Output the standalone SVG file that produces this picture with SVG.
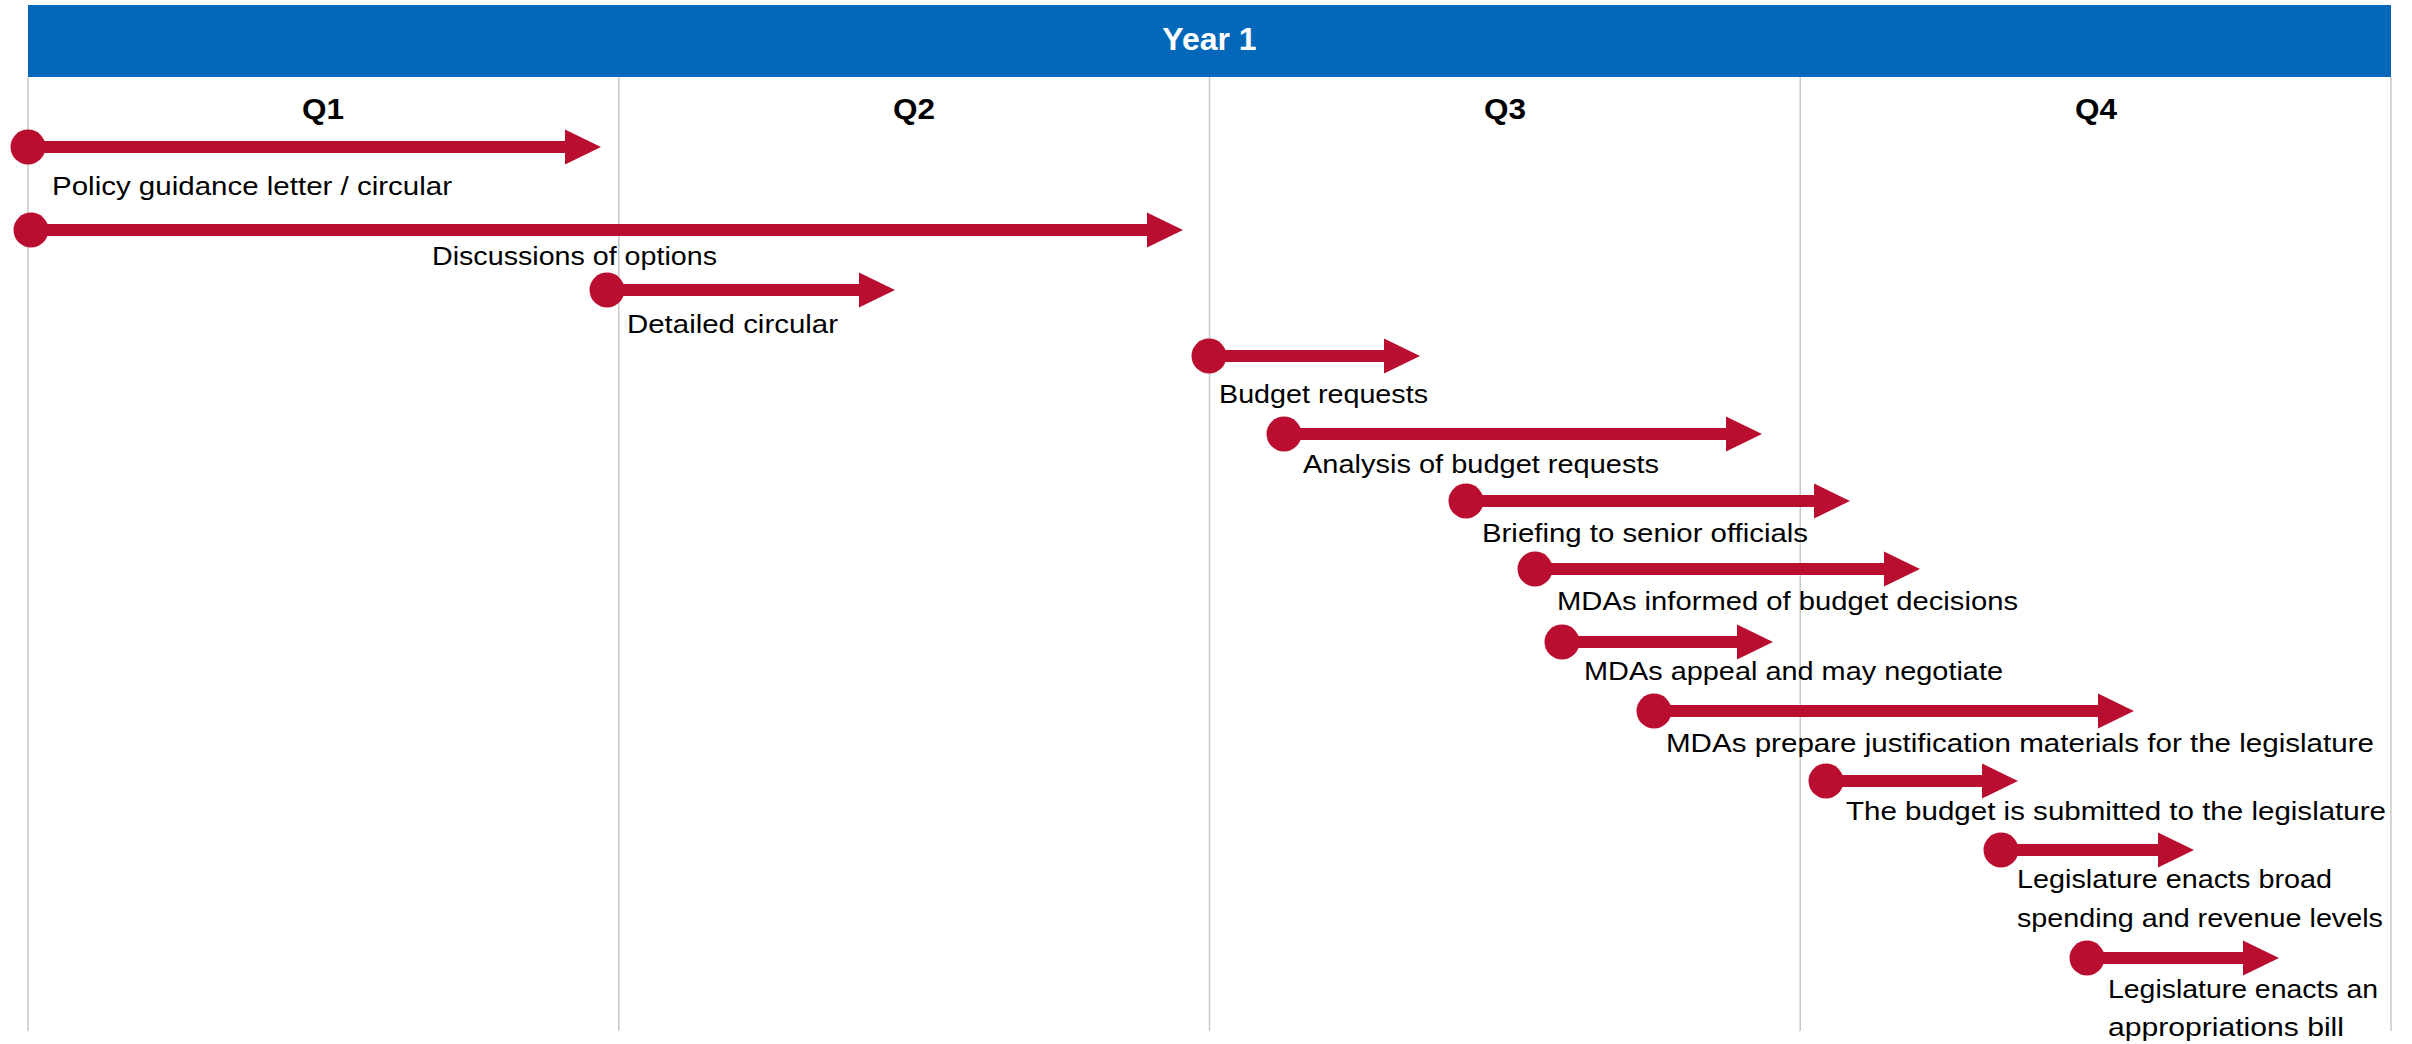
<svg xmlns="http://www.w3.org/2000/svg" width="2412" height="1044" viewBox="0 0 2412 1044">
<style>
.hdr{fill:#0368B9}
.yr{font-family:"Liberation Sans",Arial,sans-serif;font-weight:bold;font-size:32px;fill:#ffffff}
.q{font-family:"Liberation Sans",Arial,sans-serif;font-weight:bold;font-size:29px;fill:#000000}
.grid{stroke:#c8c8c8;stroke-width:1.5;fill:none}
.bar{fill:#BA0E30}
.lbl{font-family:"Liberation Sans",Arial,sans-serif;font-size:26px;fill:#000000}
</style>
<rect width="2412" height="1044" fill="#ffffff"/>
<g id="header">
<rect class="hdr" x="28" y="5" width="2363" height="72"/>
<text class="yr" x="1209.5" y="50" text-anchor="middle">Year 1</text>
</g>
<g id="grid">
<line class="grid" x1="28" y1="77" x2="28" y2="1031"/>
<line class="grid" x1="618.75" y1="77" x2="618.75" y2="1031"/>
<line class="grid" x1="1209.5" y1="77" x2="1209.5" y2="1031"/>
<line class="grid" x1="1800.25" y1="77" x2="1800.25" y2="1031"/>
<line class="grid" x1="2391" y1="77" x2="2391" y2="1031"/>
</g>
<g id="quarters">
<text class="q" x="302" y="119" textLength="42" lengthAdjust="spacingAndGlyphs">Q1</text>
<text class="q" x="893" y="119" textLength="42" lengthAdjust="spacingAndGlyphs">Q2</text>
<text class="q" x="1484" y="119" textLength="42" lengthAdjust="spacingAndGlyphs">Q3</text>
<text class="q" x="2075" y="119" textLength="42" lengthAdjust="spacingAndGlyphs">Q4</text>
</g>
<g id="connectors"></g>
<g id="task1">
<path class="bar" d="M28 141 H565 V129.5 L601 147 L565 164.5 V153 H28 Z"/>
<circle class="bar" cx="28" cy="147" r="17.5"/>
<text class="lbl" x="52" y="195" textLength="400" lengthAdjust="spacingAndGlyphs">Policy guidance letter / circular</text>
</g>
<g id="task2">
<path class="bar" d="M31 224 H1147 V212.5 L1183 230 L1147 247.5 V236 H31 Z"/>
<circle class="bar" cx="31" cy="230" r="17.5"/>
<text class="lbl" x="432" y="265" textLength="285" lengthAdjust="spacingAndGlyphs">Discussions of options</text>
</g>
<g id="task3">
<path class="bar" d="M607 284 H859 V272.5 L895 290 L859 307.5 V296 H607 Z"/>
<circle class="bar" cx="607" cy="290" r="17.5"/>
<text class="lbl" x="627" y="333" textLength="211" lengthAdjust="spacingAndGlyphs">Detailed circular</text>
</g>
<g id="task4">
<path class="bar" d="M1209 350 H1384 V338.5 L1420 356 L1384 373.5 V362 H1209 Z"/>
<circle class="bar" cx="1209" cy="356" r="17.5"/>
<text class="lbl" x="1219" y="403" textLength="209" lengthAdjust="spacingAndGlyphs">Budget requests</text>
</g>
<g id="task5">
<path class="bar" d="M1284 428 H1726 V416.5 L1762 434 L1726 451.5 V440 H1284 Z"/>
<circle class="bar" cx="1284" cy="434" r="17.5"/>
<text class="lbl" x="1303" y="473" textLength="356" lengthAdjust="spacingAndGlyphs">Analysis of budget requests</text>
</g>
<g id="task6">
<path class="bar" d="M1466 495 H1814 V483.5 L1850 501 L1814 518.5 V507 H1466 Z"/>
<circle class="bar" cx="1466" cy="501" r="17.5"/>
<text class="lbl" x="1482" y="542" textLength="326" lengthAdjust="spacingAndGlyphs">Briefing to senior officials</text>
</g>
<g id="task7">
<path class="bar" d="M1535 563 H1884 V551.5 L1920 569 L1884 586.5 V575 H1535 Z"/>
<circle class="bar" cx="1535" cy="569" r="17.5"/>
<text class="lbl" x="1557" y="610" textLength="461" lengthAdjust="spacingAndGlyphs">MDAs informed of budget decisions</text>
</g>
<g id="task8">
<path class="bar" d="M1562 636 H1737 V624.5 L1773 642 L1737 659.5 V648 H1562 Z"/>
<circle class="bar" cx="1562" cy="642" r="17.5"/>
<text class="lbl" x="1584" y="680" textLength="419" lengthAdjust="spacingAndGlyphs">MDAs appeal and may negotiate</text>
</g>
<g id="task9">
<path class="bar" d="M1654 705 H2098 V693.5 L2134 711 L2098 728.5 V717 H1654 Z"/>
<circle class="bar" cx="1654" cy="711" r="17.5"/>
<text class="lbl" x="1666" y="752" textLength="708" lengthAdjust="spacingAndGlyphs">MDAs prepare justification materials for the legislature</text>
</g>
<g id="task10">
<path class="bar" d="M1826 775 H1982 V763.5 L2018 781 L1982 798.5 V787 H1826 Z"/>
<circle class="bar" cx="1826" cy="781" r="17.5"/>
<text class="lbl" x="1846" y="820" textLength="540" lengthAdjust="spacingAndGlyphs">The budget is submitted to the legislature</text>
</g>
<g id="task11">
<path class="bar" d="M2001 844 H2158 V832.5 L2194 850 L2158 867.5 V856 H2001 Z"/>
<circle class="bar" cx="2001" cy="850" r="17.5"/>
<text class="lbl" x="2017" y="888" textLength="315" lengthAdjust="spacingAndGlyphs">Legislature enacts broad</text>
<text class="lbl" x="2017" y="927" textLength="366" lengthAdjust="spacingAndGlyphs">spending and revenue levels</text>
</g>
<g id="task12">
<path class="bar" d="M2087 952 H2243 V940.5 L2279 958 L2243 975.5 V964 H2087 Z"/>
<circle class="bar" cx="2087" cy="958" r="17.5"/>
<text class="lbl" x="2108" y="998" textLength="270" lengthAdjust="spacingAndGlyphs">Legislature enacts an</text>
<text class="lbl" x="2108" y="1036" textLength="236" lengthAdjust="spacingAndGlyphs">appropriations bill</text>
</g>
</svg>
